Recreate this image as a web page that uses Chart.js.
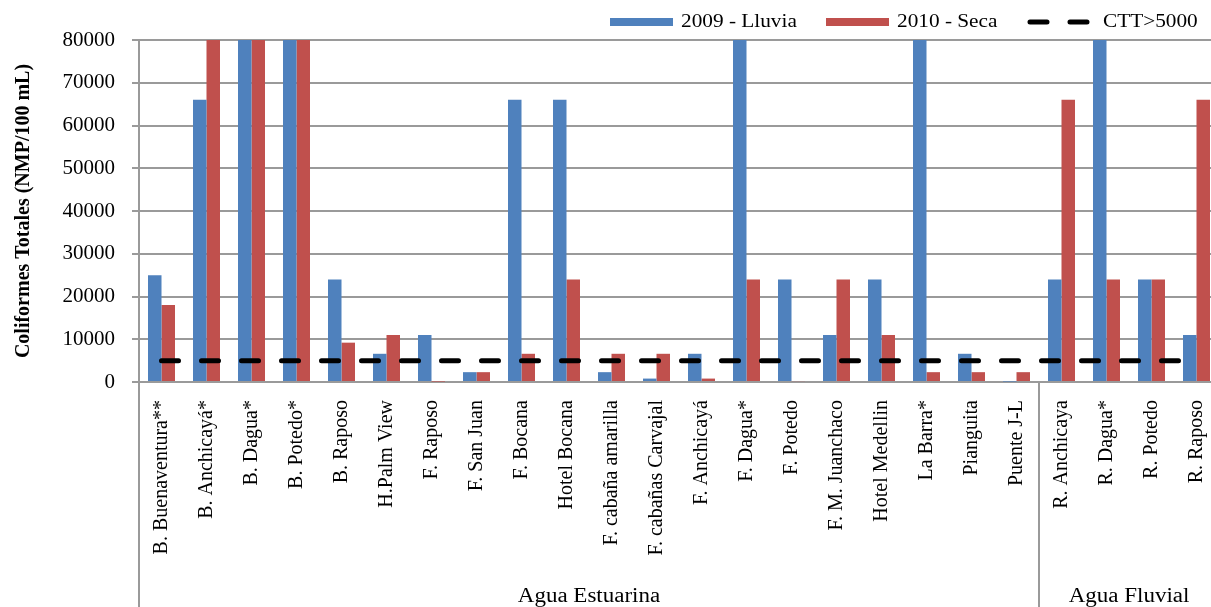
<!DOCTYPE html>
<html>
<head>
<meta charset="utf-8">
<script src="https://cdn.jsdelivr.net/npm/chart.js@4/dist/chart.umd.min.js"></script>
<style>
  html, body { margin: 0; padding: 0; background: #fff; overflow: hidden; }
  #wrap { width: 1219px; height: 607px; }
</style>
</head>
<body>
<div id="wrap"><canvas id="grafico" width="1219" height="607"></canvas></div>
<script>
// Datos
const estaciones = [
  "B. Buenaventura**", "B. Anchicayá*", "B. Dagua*", "B. Potedo*", "B. Raposo",
  "H.Palm View", "F. Raposo", "F. San Juan", "F. Bocana", "Hotel Bocana",
  "F. cabaña amarilla", "F. cabañas Carvajal", "F. Anchicayá", "F. Dagua*",
  "F. Potedo", "F. M. Juanchaco", "Hotel Medellin", "La Barra*", "Pianguita",
  "Puente J-L", "R. Anchicaya", "R. Dagua*", "R. Potedo", "R. Raposo"
];
const lluvia2009 = [
  25000, 66000, 80000, 80000, 24000, 6600, 11000, 2300, 66000, 66000,
  2300, 800, 6600, 80000, 24000, 11000, 24000, 80000, 6600, 100,
  24000, 80000, 24000, 11000
];
const seca2010 = [
  18000, 80000, 80000, 80000, 9200, 11000, 100, 2300, 6600, 24000,
  6600, 6600, 800, 24000, 200, 24000, 11000, 2300, 2300, 2300,
  66000, 24000, 24000, 66000
];
const limiteCTT = 5000;
const grupos = ["Agua Estuarina", "Agua Fluvial"];
const tamanoGrupos = [20, 4];
const yMax = 80000;
const yPaso = 10000;

const AZUL = "#4F81BD";
const ROJO = "#C0504D";
const GRIS = "#9a9a9a";
const SERIF = "'Liberation Serif', 'Times New Roman', serif";

// texto algo ensanchado, como en el original
function textoAncho(ctx, texto, x, y, escala) {
  ctx.save();
  ctx.translate(x, y);
  ctx.scale(escala, 1);
  ctx.fillText(texto, 0, 0);
  ctx.restore();
}

// Leyenda y grupos de categorías dibujados a mano
const extras = {
  id: "extras",
  afterDraw(chart) {
    const ctx = chart.ctx;
    const x = chart.scales.x;
    const area = chart.chartArea;
    const medio = (x.getPixelForValue(1) - x.getPixelForValue(0)) / 2;

    // líneas verticales y nombres de grupo
    ctx.save();
    ctx.strokeStyle = GRIS;
    ctx.lineWidth = 2;
    ctx.fillStyle = "#000";
    ctx.font = "20px " + SERIF;
    ctx.textAlign = "center";
    ctx.textBaseline = "middle";
    let inicio = 0;
    grupos.forEach((nombre, i) => {
      const fin = inicio + tamanoGrupos[i] - 1;
      const x0 = Math.round(x.getPixelForValue(inicio) - medio);
      const x1 = x.getPixelForValue(fin) + medio;
      ctx.beginPath();
      ctx.moveTo(x0, area.bottom);
      ctx.lineTo(x0, chart.height);
      ctx.stroke();
      textoAncho(ctx, nombre, (x0 + x1) / 2, 597, 1.15);
      inicio = fin + 1;
    });
    ctx.restore();

    // leyenda
    const items = [
      { texto: "2009 - Lluvia", color: AZUL, x: 610 },
      { texto: "2010 - Seca", color: ROJO, x: 826 },
      { texto: "CTT>5000", color: "#000", x: 1027, dash: true }
    ];
    ctx.save();
    ctx.font = "19px " + SERIF;
    ctx.textBaseline = "middle";
    ctx.fillStyle = "#000";
    items.forEach((it) => {
      if (it.dash) {
        ctx.strokeStyle = "#000";
        ctx.lineWidth = 5;
        ctx.lineCap = "round";
        ctx.beginPath();
        ctx.moveTo(it.x + 3, 22); ctx.lineTo(it.x + 20, 22);
        ctx.moveTo(it.x + 43, 22); ctx.lineTo(it.x + 60, 22);
        ctx.stroke();
      } else {
        ctx.fillStyle = it.color;
        ctx.fillRect(it.x, 18, 63, 8);
      }
      ctx.fillStyle = "#000";
      textoAncho(ctx, it.texto, it.x + (it.dash ? 76 : 71), 22, 1.12);
    });
    ctx.restore();
  }
};

new Chart(document.getElementById("grafico"), {
  type: "bar",
  data: {
    labels: estaciones,
    datasets: [
      {
        type: "line",
        label: "CTT>5000",
        data: estaciones.map(() => limiteCTT),
        borderColor: "#000",
        borderWidth: 5,
        borderDash: [17, 23],
        borderCapStyle: "round",
        pointRadius: 0,
        fill: false,
        order: 0
      },
      {
        label: "2009 - Lluvia",
        data: lluvia2009,
        backgroundColor: AZUL,
        order: 1
      },
      {
        label: "2010 - Seca",
        data: seca2010,
        backgroundColor: ROJO,
        order: 1
      }
    ]
  },
  options: {
    responsive: false,
    animation: false,
    layout: { padding: { top: 40, right: 0, left: 0, bottom: 0 } },
    datasets: {
      bar: { categoryPercentage: 0.6, barPercentage: 1.0 }
    },
    plugins: {
      legend: { display: false },
      tooltip: { enabled: false }
    },
    scales: {
      x: {
        grid: { display: false, drawTicks: false },
        border: { display: true, color: GRIS, width: 2 },
        ticks: {
          autoSkip: false,
          minRotation: 90,
          maxRotation: 90,
          padding: 18,
          color: "#000",
          font: { family: SERIF, size: 20 }
        },
        afterFit(scale) {
          scale.height = 225;
          scale.paddingLeft = 0;
          scale.paddingRight = 0;
        }
      },
      y: {
        min: 0,
        max: yMax,
        grid: { color: GRIS, lineWidth: 2, tickLength: 7 },
        border: { display: true, color: GRIS, width: 2 },
        ticks: {
          stepSize: yPaso,
          padding: 17,
          color: "#000",
          font: { family: SERIF, size: 21 },
          callback: (v) => String(v)
        },
        title: {
          display: true,
          text: "Coliformes Totales (NMP/100 mL)",
          color: "#000",
          font: { family: SERIF, size: 20, weight: "bold" },
          padding: { top: 12, bottom: 0 }
        },
        afterFit(scale) {
          scale.width = 139;
          scale.paddingTop = 0;
          scale.paddingBottom = 0;
        }
      }
    }
  },
  plugins: [extras]
});
</script>
</body>
</html>
